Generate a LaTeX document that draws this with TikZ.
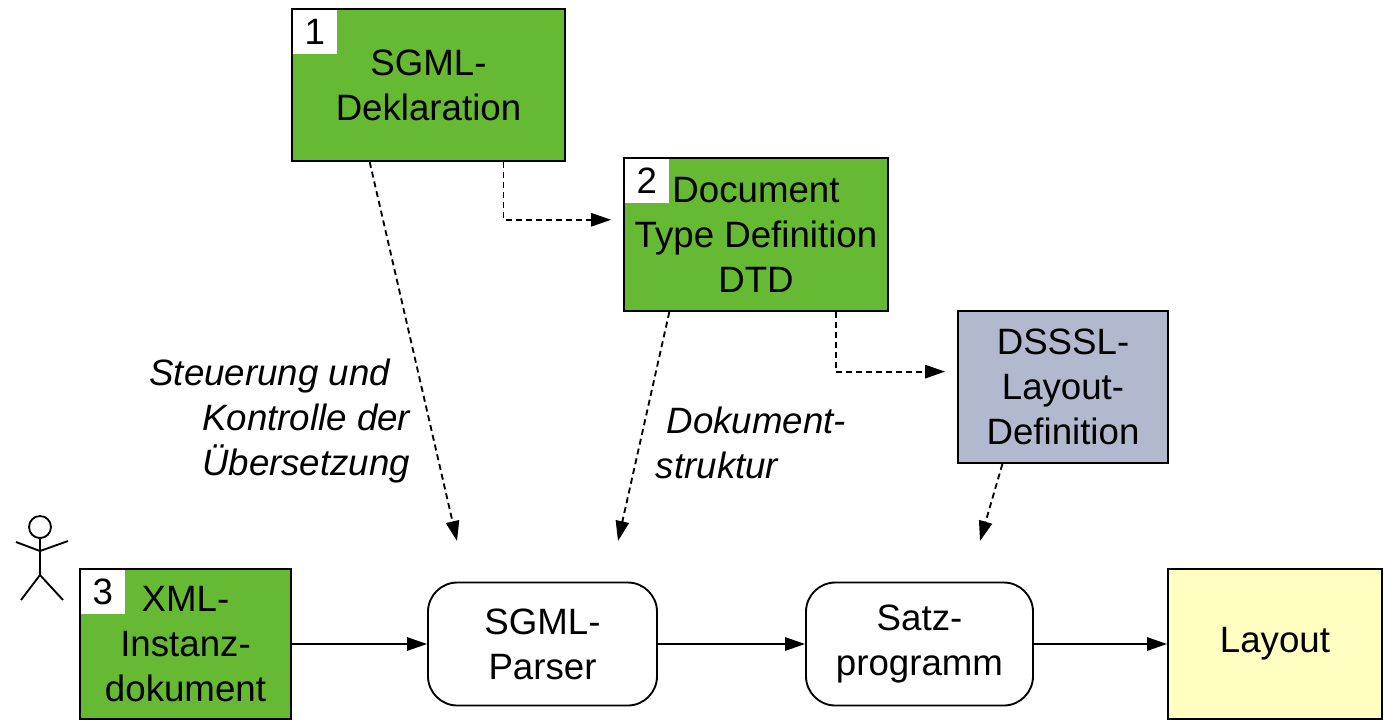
\documentclass[tikz,border=0pt]{standalone}
\usepackage{fontspec}
\setmainfont{Liberation Sans}
\usetikzlibrary{arrows.meta,calc}

\definecolor{gruen}{RGB}{102,185,51}
\definecolor{graublau}{RGB}{178,185,206}
\definecolor{hellgelb}{RGB}{255,255,194}
\newcommand{\boxfont}{\fontsize{27.5}{33.75}\selectfont}

\tikzset{every picture/.style={line width=1.4pt}}
\tikzset{
	kasten/.style={draw, fill=gruen, align=center, inner sep=0pt, font=\boxfont},
	nummer/.style={fill=white, anchor=north west, outer sep=1.4pt, inner sep=0pt,
		minimum width=33pt, minimum height=33pt, font=\boxfont},
	prozess/.style={draw, fill=white, rounded corners=22pt, align=center, inner sep=0pt, font=\boxfont},
	pfeil/.style={-{Triangle[length=15pt,width=10pt]}},
	gestrichelt/.style={pfeil, dash pattern=on 4.5pt off 3pt},
	hinweis/.style={inner sep=0pt, font=\boxfont\itshape}}

\begin{document}
\begin{tikzpicture}[x=0.75pt,y=0.75pt,yscale=-1,xscale=1]
	\useasboundingbox (0,0) rectangle (1384,722);

	%Shape: Rectangle [SGML-Deklaration]
	\node[kasten, minimum width=204.75pt, minimum height=114pt] (decl) at (428.5,85) {SGML-\\Deklaration};
	\node[nummer] (n1) at (decl.north west) {1};
	%Shape: Rectangle [DTD]
	\node[kasten, minimum width=198pt, minimum height=114.75pt] (dtd) at (756,234.5) {Document\\Type Definition\\DTD};
	\node[nummer] (n2) at (dtd.north west) {2};
	%Shape: Rectangle [DSSSL]
	\node[kasten, fill=graublau, minimum width=157.5pt, minimum height=114pt] (dsssl) at (1063,387) {DSSSL-\\Layout-\\Definition};
	%Shape: Rectangle [XML-Instanz]
	\node[kasten, minimum width=158.25pt, minimum height=112.5pt] (xml) at (185.5,644) {XML-\\Instanz-\\dokument};
	\node[nummer] (n3) at (xml.north west) {3};
	%Shape: Rounded Rect [Parser]
	\node[prozess, minimum width=171.75pt, minimum height=92.25pt] (parser) at (542.5,644) {SGML-\\Parser};
	%Shape: Rounded Rect [Satz]
	\node[prozess, minimum width=170.25pt, minimum height=92.25pt] (satz) at (919.5,644) {Satz-\\programm};
	%Shape: Rectangle [Layout]
	\node[kasten, fill=hellgelb, minimum width=160.5pt, minimum height=112.5pt] (layout) at (1275,644) {Layout};

	%Shape: Stick figure
	\draw (40,527) circle [radius=11];
	\draw (40,538) -- (40,575) (16,542) -- (40,551) -- (68,541) (21,600) -- (40,575) -- (63,600);

	% free ends of the dashed arrows
	\coordinate (ziel1) at (457,541);
	\coordinate (ziel2) at (618,541);
	\coordinate (ziel3) at (980,541);

	%Dashed Lines
	\draw[gestrichelt] ($(decl.south west)!0.286!(decl.south east)$) -- (ziel1);
	\draw[gestrichelt, shorten >=9pt] ($(decl.south west)!0.773!(decl.south east)$) |- ($(dtd.north west)!0.405!(dtd.south west)$);
	\draw[gestrichelt] ($(dtd.south west)!0.174!(dtd.south east)$) -- (ziel2);
	\draw[gestrichelt, shorten >=9pt] ($(dtd.south west)!0.80!(dtd.south east)$) |- ($(dsssl.north west)!0.40!(dsssl.south west)$);
	\draw[gestrichelt] ($(dsssl.south west)!0.214!(dsssl.south east)$) -- (ziel3);

	%Straight Lines
	\draw[pfeil] (xml.east) -- (parser.west);
	\draw[pfeil] (parser.east) -- (satz.west);
	\draw[pfeil] (satz.east) -- (layout.west);

	% Text Node
	\node[hinweis, anchor=east, align=right] (steuerung) at (411,421) {Steuerung und\hspace*{15pt}\\Kontrolle der\hspace*{6pt}\\Übersetzung};
	% Text Node
	\node[hinweis, anchor=west, align=left] (struktur) at (655,443) {\hspace*{8pt}Dokument-\\struktur};

\end{tikzpicture}
\end{document}
